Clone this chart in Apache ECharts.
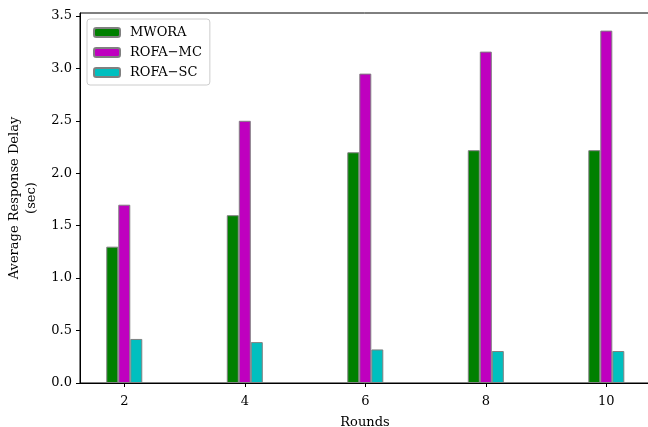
<!DOCTYPE html>
<html><head><meta charset="utf-8">
<script src="https://cdn.jsdelivr.net/npm/echarts@6/dist/echarts.min.js"></script>
<style>html,body{margin:0;padding:0;background:#fff}#c{width:648px;height:427px}</style>
</head><body><div id="c"></div>
<script>
var rounds = [2, 4, 6, 8, 10];
var mwora = [1.30, 1.60, 2.20, 2.22, 2.22];
var rofaMC = [1.70, 2.50, 2.95, 3.16, 3.36];
var rofaSC = [0.42, 0.39, 0.32, 0.305, 0.305];
var yTicks = [0, 0.5, 1.0, 1.5, 2.0, 2.5, 3.0, 3.5];

var font = 'DejaVu Serif';
function pairs(vals){ return rounds.map(function(r,i){ return [r, vals[i]]; }); }
var chart = echarts.init(document.getElementById('c'));
function ser(name, color, vals){
  return {name:name, type:'bar', data:pairs(vals), barWidth:12, barGap:'0%',
    itemStyle:{color:color, borderColor:'#808080', borderWidth:1}, animation:false};
}
chart.setOption({
  animation:false,
  grid:{left:80, top:13, right:-2, bottom:44, show:true, borderColor:'#000', borderWidth:1,
    outerBoundsMode:'none', containLabel:false},
  legend:{orient:'vertical', left:87, top:19, itemWidth:26, itemHeight:9, itemGap:7,
    padding:[7,8,6,6], borderColor:'#cccccc', borderWidth:1, borderRadius:3,
    backgroundColor:'rgba(255,255,255,0.8)',
    textStyle:{fontFamily:font, fontSize:13, color:'#000', padding:[0,0,0,5]},
    data:['MWORA','ROFA\u2212MC','ROFA\u2212SC']},
  xAxis:{type:'value', min:1.265, max:10.725,
    name:'Rounds', nameLocation:'middle', nameGap:33,
    nameTextStyle:{fontFamily:font, fontSize:13, color:'#000'},
    splitLine:{show:false},
    axisLine:{show:true, onZero:false, lineStyle:{color:'#000', width:1}},
    axisTick:{show:true, length:4, lineStyle:{color:'#000'}, customValues:rounds},
    axisLabel:{fontFamily:font, fontSize:13, color:'#000', margin:12, customValues:rounds}},
  yAxis:{type:'value', min:0, max:3.528,
    name:'Average Response Delay\n(sec)', nameLocation:'middle', nameGap:39, nameRotate:90,
    nameTextStyle:{fontFamily:font, fontSize:13, color:'#000', lineHeight:17},
    splitLine:{show:false},
    axisLine:{show:true, lineStyle:{color:'#000', width:1}},
    axisTick:{show:true, length:4, lineStyle:{color:'#000'}, customValues:yTicks},
    axisLabel:{fontFamily:font, fontSize:13, color:'#000', margin:8, customValues:yTicks,
      formatter:function(v){return v.toFixed(1);}}},
  series:[ser('MWORA','#008000',mwora), ser('ROFA\u2212MC','#bf00bf',rofaMC), ser('ROFA\u2212SC','#00bfbf',rofaSC)]
});
</script></body></html>
